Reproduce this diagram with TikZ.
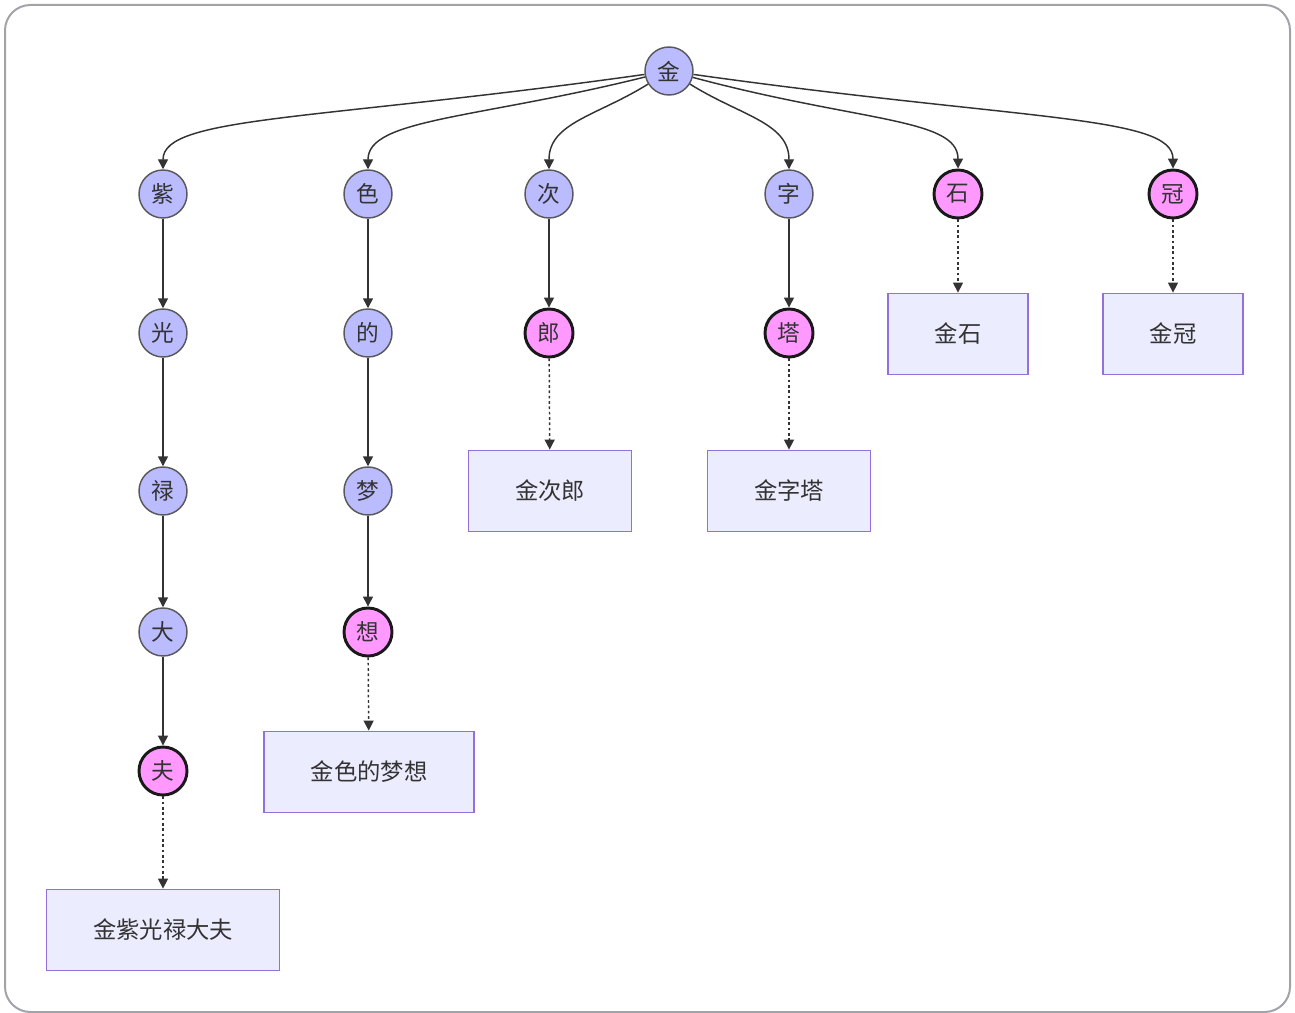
\documentclass[tikz,border=0pt]{standalone}
\usepackage{fontspec}
\setmainfont{Noto Sans CJK SC}
\usetikzlibrary{arrows.meta}
\definecolor{bluef}{HTML}{BBBBFF}
\definecolor{pinkf}{HTML}{FF99FF}
\definecolor{rectf}{HTML}{ECECFF}
\definecolor{rectd}{HTML}{9370DB}
\definecolor{txt}{HTML}{333333}
\definecolor{edge}{HTML}{333333}
\definecolor{frame}{HTML}{A0A4AA}
\tikzset{
  bc/.style={circle,draw=black!65,fill=bluef,line width=1.1pt,minimum size=36pt,inner sep=0pt,text=txt,font=\fontsize{17}{20}\selectfont},
  pc/.style={circle,draw=black!90,fill=pinkf,line width=2.2pt,minimum size=36pt,inner sep=0pt,text=txt,font=\fontsize{17}{20}\selectfont},
  leaf/.style={rectangle,draw=rectd,fill=rectf,line width=1.1pt,minimum height=61pt,inner xsep=35pt,text=txt,font=\fontsize{17.5}{20}\selectfont},
  arr/.style={draw=edge,line width=1.1pt,-{Triangle[length=7.5pt,width=7.5pt]}},
  dotarr/.style={arr,dash pattern=on 2pt off 2pt}
}
\begin{document}
\begin{tikzpicture}[x=0.75pt,y=0.75pt]
\useasboundingbox (0,0) rectangle (1295,-1013);
\draw[frame,line width=1.5pt,rounded corners=19pt] (5,-5) rectangle (1290,-1012);

\node[bc] (jin) at (669,-71) {金};
% level 1
\node[bc] (zi) at (163,-194) {紫};
\node[bc] (se) at (368,-194) {色};
\node[bc] (ci) at (549,-194) {次};
\node[bc] (zz) at (789,-194) {字};
\node[pc] (shi) at (958,-194) {石};
\node[pc] (guan) at (1173,-194) {冠};
% level 2
\node[bc] (guang) at (163,-333) {光};
\node[bc] (de) at (368,-333) {的};
\node[pc] (lang) at (549,-333) {郎};
\node[pc] (ta) at (789,-333) {塔};
\node[leaf] (jinshi) at (958,-334) {金石};
\node[leaf] (jinguan) at (1173,-334) {金冠};
% level 3
\node[bc] (lu) at (163,-491) {禄};
\node[bc] (meng) at (368,-491) {梦};
\node[leaf] (jinciilang) at (550,-491) {金次郎};
\node[leaf] (jinzita) at (789,-491) {金字塔};
% level 4
\node[bc] (da) at (163,-632) {大};
\node[pc] (xiang) at (368,-632) {想};
% level 5
\node[pc] (fu) at (163,-771) {夫};
\node[leaf] (jinse) at (369,-772) {金色的梦想};
% level 6
\node[leaf] (jinzi) at (163,-930) {金紫光禄大夫};

% curved edges
\draw[arr] (jin) to[out=188,in=90,out distance=250pt,in distance=40pt] (zi);
\draw[arr] (jin) to[out=194,in=90,out distance=130pt,in distance=38pt] (se);
\draw[arr] (jin) to[out=212,in=90,out distance=45pt,in distance=35pt] (ci);
\draw[arr] (jin) to[out=-32,in=90,out distance=45pt,in distance=35pt] (zz);
\draw[arr] (jin) to[out=-15,in=90,out distance=130pt,in distance=38pt] (shi);
\draw[arr] (jin) to[out=-8,in=90,out distance=250pt,in distance=40pt] (guan);

% straight edges
\draw[arr] (zi) -- (guang);
\draw[arr] (guang) -- (lu);
\draw[arr] (lu) -- (da);
\draw[arr] (da) -- (fu);
\draw[dotarr] (fu) -- (jinzi);

\draw[arr] (se) -- (de);
\draw[arr] (de) -- (meng);
\draw[arr] (meng) -- (xiang);
\draw[dotarr] (xiang) -- (jinse);

\draw[arr] (ci) -- (lang);
\draw[dotarr] (lang) -- (jinciilang);

\draw[arr] (zz) -- (ta);
\draw[dotarr] (ta) -- (jinzita);

\draw[dotarr] (shi) -- (jinshi);
\draw[dotarr] (guan) -- (jinguan);
\end{tikzpicture}
\end{document}
